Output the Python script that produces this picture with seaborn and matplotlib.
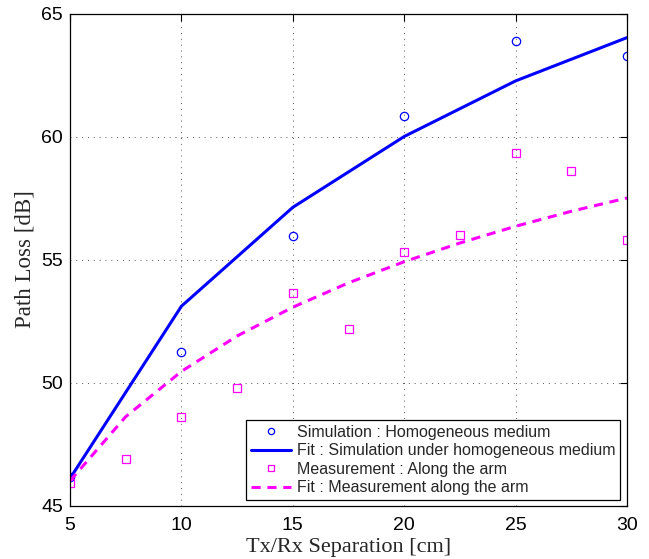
import matplotlib
matplotlib.use("Agg")
import matplotlib.pyplot as plt
import seaborn as sns

# Tx/Rx separation (cm) and path loss (dB)
sim_dist = [5, 10, 15, 20, 25, 30]
sim_loss = [46.17, 51.23, 55.96, 60.85, 63.9, 63.27]
sim_fit = [46.1, 53.1, 57.12, 60.0, 62.26, 64.02]

meas_dist = [5, 7.5, 10, 12.5, 15, 17.5, 20, 22.5, 25, 27.5, 30]
meas_loss = [45.93, 46.9, 48.61, 49.79, 53.63, 52.17, 55.29, 55.98, 59.33, 58.61, 55.79]
meas_fit = [46.0, 48.61, 50.45, 51.89, 53.06, 54.05, 54.91, 55.67, 56.35, 56.96, 57.5]

x_ticks = [5, 10, 15, 20, 25, 30]
y_ticks = [45, 50, 55, 60, 65]

sns.set_style("white")
plt.rcParams["font.family"] = ["Liberation Sans", "DejaVu Sans"]

fig = plt.figure(figsize=(6.49, 5.59), dpi=100)
ax = fig.add_axes([70 / 649, 1 - 505.5 / 559, 557 / 649, 492 / 559])

sns.lineplot(x=sim_dist, y=sim_loss, ax=ax, linestyle="none", marker="o",
             markersize=6, markerfacecolor="none", markeredgecolor="blue",
             markeredgewidth=0.9, color="blue",
             label="Simulation : Homogeneous medium")
sns.lineplot(x=sim_dist, y=sim_fit, ax=ax, color="blue", linewidth=2.2,
             label="Fit : Simulation under homogeneous medium")
sns.lineplot(x=meas_dist, y=meas_loss, ax=ax, linestyle="none", marker="s",
             markersize=5.5, markerfacecolor="none", markeredgecolor="magenta",
             markeredgewidth=0.9, color="magenta",
             label="Measurement : Along the arm")
sns.lineplot(x=meas_dist, y=meas_fit, ax=ax, color="magenta", linewidth=2.2,
             linestyle=(0, (3, 2.2)),
             label="Fit : Measurement along the arm")

ax.set_xlim(5, 30)
ax.set_ylim(45, 65)
ax.set_xticks(x_ticks)
ax.set_yticks(y_ticks)
ax.tick_params(direction="in", length=5, width=0.8, labelsize=14,
               top=True, right=True, colors="black")
ax.tick_params(axis="x", pad=8)
ax.tick_params(axis="y", pad=5)
ax.grid(True, linestyle=(0, (1, 5)), color="#555555", linewidth=0.7)
for sp in ax.spines.values():
    sp.set_color("black")
    sp.set_linewidth(0.9)

ax.set_xlabel("Tx/Rx Separation [cm]", family="Liberation Serif", fontsize=16,
              labelpad=3)
ax.set_ylabel("Path Loss [dB]", family="Liberation Serif", fontsize=16.5,
              labelpad=4)

leg = ax.legend(loc="lower right", bbox_to_anchor=(1 - 7 / 557, 5.5 / 492),
                borderaxespad=0, fontsize=11.5, frameon=True, fancybox=False,
                framealpha=1, edgecolor="black", handlelength=2.5,
                handletextpad=0.35, labelspacing=0.22, borderpad=0.3)
leg.get_frame().set_linewidth(0.9)
for h in leg.legend_handles:
    h.set_markersize(4.5)

fig.savefig("out.png", dpi=100)
